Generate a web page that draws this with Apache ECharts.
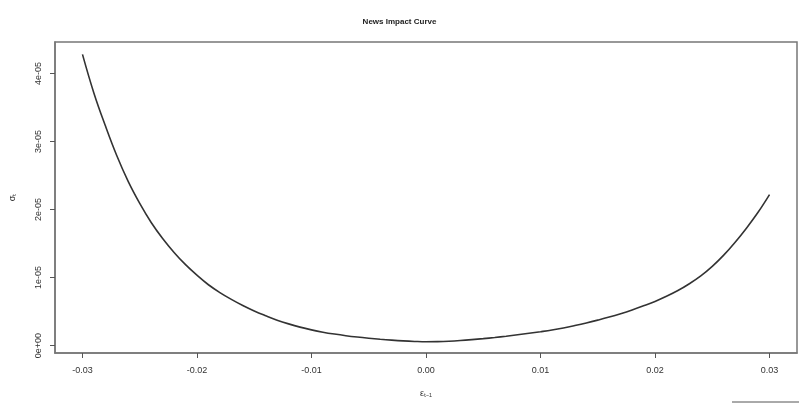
<!DOCTYPE html>
<html>
<head>
<meta charset="utf-8">
<script src="https://cdn.jsdelivr.net/npm/echarts@6/dist/echarts.min.js"></script>
<style>
  html, body { margin: 0; padding: 0; background: #fff; }
  #chart { width: 799px; height: 403px; }
</style>
</head>
<body>
<div id="chart"></div>
<script>
// Lagged shock values (epsilon_{t-1})
const shocks = [
  -0.030, -0.029, -0.028, -0.027, -0.026, -0.025, -0.024, -0.023, -0.022, -0.021,
  -0.020, -0.019, -0.018, -0.017, -0.016, -0.015, -0.014, -0.013, -0.012, -0.011,
  -0.010, -0.009, -0.008, -0.007, -0.006, -0.005, -0.004, -0.003, -0.002, -0.001,
   0.000,  0.001,  0.002,  0.003,  0.004,  0.005,  0.006,  0.007,  0.008,  0.009,
   0.010,  0.011,  0.012,  0.013,  0.014,  0.015,  0.016,  0.017,  0.018,  0.019,
   0.020,  0.021,  0.022,  0.023,  0.024,  0.025,  0.026,  0.027,  0.028,  0.029,
   0.030
];

// Conditional variance response (sigma_t), in units of 1e-5
const sigmaE5 = [
  4.28, 3.71, 3.23, 2.79, 2.41, 2.09, 1.81, 1.575, 1.37, 1.19,
  1.035, 0.895, 0.78, 0.68, 0.59, 0.51, 0.44, 0.375, 0.32, 0.272,
  0.232, 0.198, 0.17, 0.146, 0.126, 0.109, 0.094, 0.081, 0.07, 0.062,
  0.057, 0.059, 0.065, 0.075, 0.088, 0.103, 0.12, 0.139, 0.16, 0.182,
  0.205, 0.23, 0.26, 0.295, 0.333, 0.375, 0.42, 0.47, 0.525, 0.585,
  0.65, 0.725, 0.81, 0.91, 1.025, 1.165, 1.33, 1.52, 1.73, 1.96,
  2.22
];

// Axis tick positions
const xTicks = [-0.03, -0.02, -0.01, 0.00, 0.01, 0.02, 0.03];
const yTicks = [0, 1e-5, 2e-5, 3e-5, 4e-5];

const points = shocks.map((x, i) => [x, sigmaE5[i] * 1e-5]);

// R-style scientific labels, e.g. 1e-05, 0e+00
function sciLabel(v) {
  if (Math.abs(v) < 1e-12) return '0e+00';
  const e = Math.floor(Math.log10(Math.abs(v)) + 1e-9);
  const m = Math.round(v / Math.pow(10, e));
  const sign = e < 0 ? '-' : '+';
  const ee = String(Math.abs(e)).padStart(2, '0');
  return m + 'e' + sign + ee;
}

const font = 'Liberation Sans, Arial, sans-serif';
const chart = echarts.init(document.getElementById('chart'), null, { renderer: 'canvas' });

chart.setOption({
  animation: false,
  backgroundColor: '#ffffff',
  title: {
    text: 'News Impact Curve',
    left: 'center',
    top: 13,
    textStyle: { fontFamily: font, fontSize: 8, fontWeight: 'bold', color: '#222' }
  },
  grid: {
    left: 52, right: 2, top: 42, bottom: 45,
    show: true, borderColor: '#777', borderWidth: 1.5, backgroundColor: 'transparent'
  },
  xAxis: {
    type: 'value',
    min: -0.0324,
    max: 0.0324,
    name: 'ε\u209C\u208B\u2081',
    nameLocation: 'middle',
    nameGap: 36,
    nameTextStyle: { fontFamily: font, fontSize: 9, color: '#333' },
    splitLine: { show: false },
    axisLine: { show: true, onZero: false, lineStyle: { color: '#777', width: 1.5 } },
    axisTick: { show: true, length: 5, customValues: xTicks, lineStyle: { color: '#555' } },
    axisLabel: {
      customValues: xTicks,
      margin: 13,
      fontFamily: font, fontSize: 9, color: '#333',
      formatter: v => v.toFixed(2)
    }
  },
  yAxis: {
    type: 'value',
    min: -1.08e-6,
    max: 4.462e-5,
    name: '\u03C3\u209C',
    nameLocation: 'middle',
    nameRotate: 90,
    nameGap: 38,
    nameTextStyle: { fontFamily: font, fontSize: 9, color: '#333' },
    splitLine: { show: false },
    axisLine: { show: true, onZero: false, lineStyle: { color: '#777', width: 1.5 } },
    axisTick: { show: true, length: 5, customValues: yTicks, lineStyle: { color: '#555' } },
    axisLabel: {
      customValues: yTicks,
      rotate: 90,
      margin: 12,
      fontFamily: font, fontSize: 9, color: '#333',
      formatter: sciLabel
    }
  },
  series: [{
    type: 'line',
    data: points,
    smooth: 0.4,
    showSymbol: false,
    lineStyle: { color: '#333', width: 1.6 },
    silent: true
  }],
  graphic: [{
    type: 'line',
    shape: { x1: 732, y1: 402, x2: 799, y2: 402 },
    style: { stroke: '#555', lineWidth: 1 },
    silent: true
  }]
});
</script>
</body>
</html>
